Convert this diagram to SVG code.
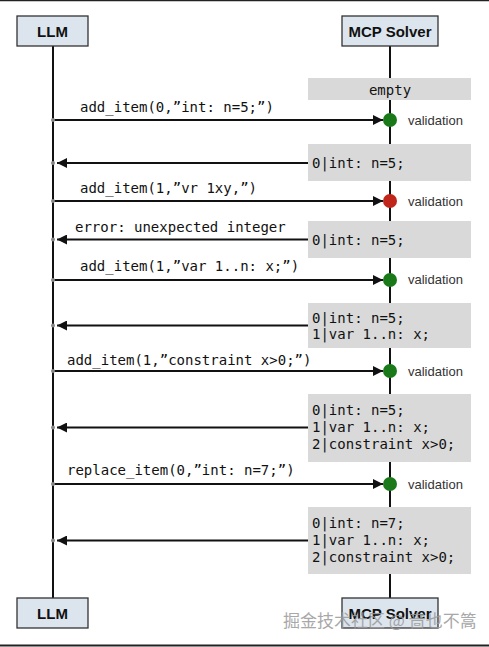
<svg xmlns="http://www.w3.org/2000/svg" width="489" height="647" viewBox="0 0 489 647">
<style>
.actor{fill:#dce5ee;stroke:#333;stroke-width:1.3}
.actor-t{font-family:"Liberation Sans",Arial,sans-serif;font-weight:bold;font-size:15px;fill:#111;text-anchor:middle}
.life{stroke:#111;stroke-width:2}
.state{fill:#d9d9d9}
.mono{font-family:"DejaVu Sans Mono","Liberation Mono",monospace;font-size:14px;fill:#111}
.msg{stroke:#111;stroke-width:2;fill:none}
.val{font-family:"Liberation Sans",Arial,sans-serif;font-size:13px;fill:#333}
.dot{fill:#888}
</style>
<defs>
<marker id="ah" viewBox="0 0 10 10" refX="10" refY="5" markerWidth="5" markerHeight="5" orient="auto" markerUnits="strokeWidth">
<path d="M0,0 L10,5 L0,10 z" fill="#111"/>
</marker>
</defs>
<rect width="489" height="647" fill="#fff"/>
<line x1="0" y1="0.5" x2="489" y2="0.5" stroke="#222" stroke-width="1.5"/>
<line x1="0" y1="645.5" x2="489" y2="645.5" stroke="#222" stroke-width="2"/>
<g id="lifelines">
<line class="life" x1="53" y1="46" x2="53" y2="598"/>
<line class="life" x1="390" y1="46" x2="390" y2="598"/>
</g>
<g id="llm-top"><rect class="actor" x="17" y="16" width="71" height="30"/><text class="actor-t" x="52.5" y="36.5">LLM</text></g>
<g id="mcp-top"><rect class="actor" x="342" y="16" width="96" height="30"/><text class="actor-t" x="390" y="36.5">MCP Solver</text></g>
<g id="llm-bottom"><rect class="actor" x="17" y="598" width="71" height="30"/><text class="actor-t" x="52.5" y="618.5">LLM</text></g>
<g id="mcp-bottom"><rect class="actor" x="342" y="598" width="96" height="30"/><text class="actor-t" x="390" y="618.5">MCP Solver</text></g>
<g id="state0"><rect class="state" x="308" y="78" width="163" height="22"/><text class="mono" x="390" y="95" text-anchor="middle">empty</text></g>
<g id="state1"><rect class="state" x="308" y="144" width="163" height="37"/><text class="mono" x="312" y="168">0|int: n=5;</text></g>
<g id="state2"><rect class="state" x="308" y="221" width="163" height="37"/><text class="mono" x="312" y="245">0|int: n=5;</text></g>
<g id="state3"><rect class="state" x="308" y="303" width="163" height="45"/><text class="mono" x="312" y="322.5">0|int: n=5;</text><text class="mono" x="312" y="339">1|var 1..n: x;</text></g>
<g id="state4"><rect class="state" x="308" y="394" width="163" height="68"/><text class="mono" x="312" y="415">0|int: n=5;</text><text class="mono" x="312" y="432">1|var 1..n: x;</text><text class="mono" x="312" y="449">2|constraint x&gt;0;</text></g>
<g id="state5"><rect class="state" x="308" y="507" width="163" height="67"/><text class="mono" x="312" y="528">0|int: n=7;</text><text class="mono" x="312" y="545">1|var 1..n: x;</text><text class="mono" x="312" y="562">2|constraint x&gt;0;</text></g>
<g id="connectors">
<line class="msg" x1="53" y1="120" x2="383" y2="120" marker-end="url(#ah)"/>
<line class="msg" x1="308" y1="163" x2="57" y2="163" marker-end="url(#ah)"/>
<line class="msg" x1="53" y1="201" x2="383" y2="201" marker-end="url(#ah)"/>
<line class="msg" x1="308" y1="239.5" x2="57" y2="239.5" marker-end="url(#ah)"/>
<line class="msg" x1="53" y1="280" x2="383" y2="280" marker-end="url(#ah)"/>
<line class="msg" x1="308" y1="325.5" x2="57" y2="325.5" marker-end="url(#ah)"/>
<line class="msg" x1="53" y1="371" x2="383" y2="371" marker-end="url(#ah)"/>
<line class="msg" x1="308" y1="427.5" x2="57" y2="427.5" marker-end="url(#ah)"/>
<line class="msg" x1="53" y1="484" x2="383" y2="484" marker-end="url(#ah)"/>
<line class="msg" x1="308" y1="540.5" x2="57" y2="540.5" marker-end="url(#ah)"/>
<circle class="dot" cx="53" cy="120" r="2"/><circle class="dot" cx="53" cy="163" r="2"/><circle class="dot" cx="53" cy="201" r="2"/><circle class="dot" cx="53" cy="239.5" r="2"/><circle class="dot" cx="53" cy="280" r="2"/><circle class="dot" cx="53" cy="325.5" r="2"/><circle class="dot" cx="53" cy="371" r="2"/><circle class="dot" cx="53" cy="427.5" r="2"/><circle class="dot" cx="53" cy="484" r="2"/><circle class="dot" cx="53" cy="540.5" r="2"/>
<text class="mono" x="80" y="112">add_item(0,”int: n=5;”)</text>
<text class="mono" x="80" y="193">add_item(1,”vr 1xy,”)</text>
<text class="mono" x="75" y="232">error: unexpected integer</text>
<text class="mono" x="80" y="271">add_item(1,”var 1..n: x;”)</text>
<text class="mono" x="67" y="365">add_item(1,”constraint x&gt;0;”)</text>
<text class="mono" x="67" y="475">replace_item(0,”int: n=7;”)</text>
</g>
<g id="validations">
<circle cx="390" cy="120" r="7" fill="#1a7a1a"/><text class="val" x="408" y="125">validation</text>
<circle cx="390" cy="201" r="7" fill="#c0261a"/><text class="val" x="408" y="206">validation</text>
<circle cx="390" cy="280" r="7" fill="#1a7a1a"/><text class="val" x="408" y="284">validation</text>
<circle cx="390" cy="371" r="7" fill="#1a7a1a"/><text class="val" x="408" y="376">validation</text>
<circle cx="390" cy="484" r="7" fill="#1a7a1a"/><text class="val" x="408" y="489">validation</text>
</g>
<text x="283" y="627" font-family="'Noto Sans CJK SC',sans-serif" font-size="17" fill="#9a9a9a" opacity="0.85">掘金技术社区 @ 啬也不篙</text>
</svg>
